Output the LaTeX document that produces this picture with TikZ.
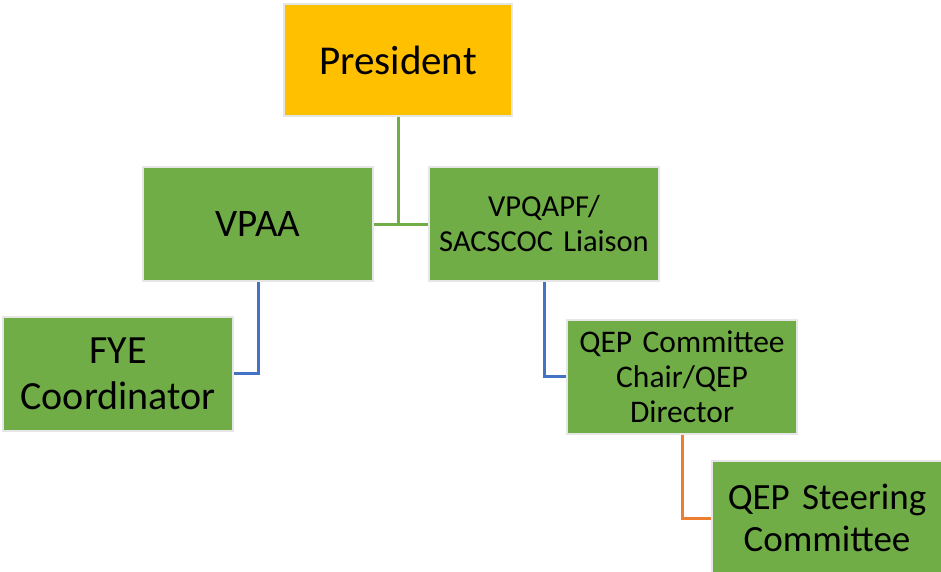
\documentclass[tikz,border=0pt]{standalone}
\usepackage{fontspec}
\setmainfont{Carlito}[WordSpace=1.15]
\definecolor{presorange}{HTML}{FFC000}
\definecolor{boxgreen}{HTML}{70AD47}
\definecolor{lineblue}{HTML}{4472C4}
\definecolor{lineorange}{HTML}{ED7D31}
\definecolor{boxedge}{HTML}{E6E6E6}
\begin{document}
\begin{tikzpicture}[x=1pt,y=-1pt,
  box/.style={draw=boxedge, line width=2pt, fill=boxgreen, minimum width=230pt, minimum height=114pt, inner sep=0pt, align=center, text width=220pt, anchor=center},
  conn/.style={line width=3pt}]
\useasboundingbox (0,0) rectangle (941,571);
\node[box, fill=presorange, minimum width=228pt, minimum height=112pt, font=\fontsize{41}{48}\selectfont] (pres) at (398,60) {President};
\node[box, font=\fontsize{39}{46}\selectfont] (vpaa) at (258,224) {VPAA};
\node[box, font=\fontsize{30.5}{35}\selectfont] (vpq) at (544,224) {VPQAPF/\\SACSCOC Liaison};
\node[box, font=\fontsize{40}{46}\selectfont] (fye) at (118,373.5) {FYE\\Coordinator};
\node[box, text width=215pt, font=\fontsize{31.5}{35}\selectfont] (qep) at (682,376.5) {QEP Committee\\Chair/QEP\\Director};
\node[box, font=\fontsize{37}{42}\selectfont] (steer) at (827,518) {QEP Steering\\Committee};
\draw[conn, boxgreen] (pres.south) -- (pres.south |- vpaa.east);
\draw[conn, boxgreen] (vpaa.east) -- (vpq.west);
\draw[conn, lineblue] (vpaa.south) |- (fye.east);
\draw[conn, lineblue] (vpq.south) |- (qep.west);
\draw[conn, lineorange] (qep.south) |- (steer.west);
\end{tikzpicture}
\end{document}
